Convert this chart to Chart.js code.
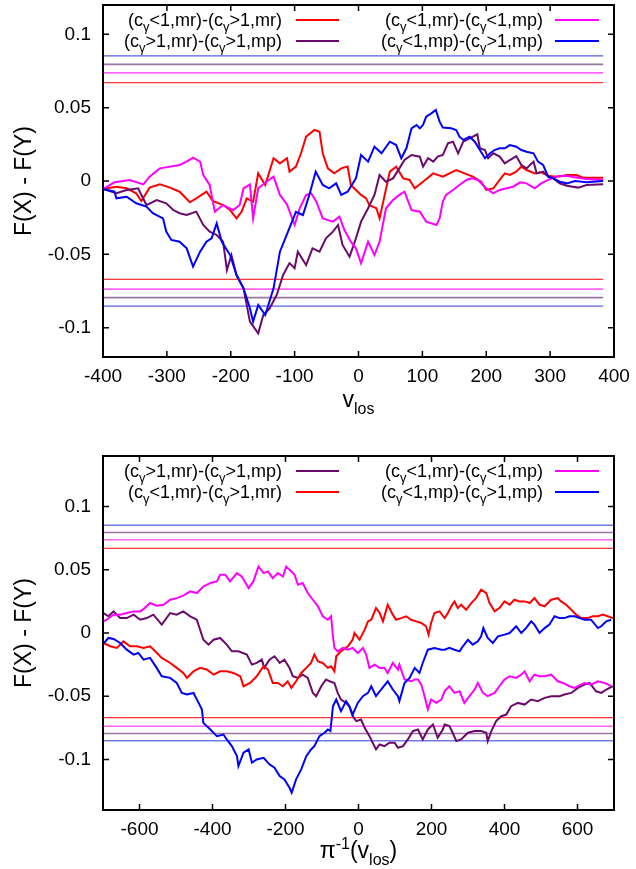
<!DOCTYPE html>
<html>
<head>
<meta charset="utf-8">
<title>F(X) - F(Y)</title>
<script src="https://cdn.jsdelivr.net/npm/chart.js@4.4.0/dist/chart.umd.min.js"></script>
<style>
  html, body { margin: 0; padding: 0; background: #fff; }
  #wrap { position: relative; width: 636px; height: 869px; }
  canvas { position: absolute; left: 0; }
  #top { top: 0; }
  #bottom { top: 436px; }
</style>
</head>
<body>
<div id="wrap">
  <canvas id="top" width="636" height="436"></canvas>
  <canvas id="bottom" width="636" height="433"></canvas>
</div>
<script>
// ---- upper panel: difference of cumulative distributions vs v_los ----
const topXTicks = [-400, -300, -200, -100, 0, 100, 200, 300, 400];
const topYTicks = [-0.1, -0.05, 0, 0.05, 0.1];

const topRedV = [-400,-379,-363,-348,-340,-327,-311,-295,-280,-264,-254,-238,-228,-212,-201,-191,-183,-175,-165,-157,-146,-133,-123,-112,-108,-98,-90,-82,-69,-61,-56,-48,-38,-27,-17,-12,-4,4,12,17,28,33,41,49,59,70,80,88,101,117,132,153,166,179,192,200,211,221,229,237,247,255,263,276,286,297,305,315,326,341,352,383];
const topRedF = [-0.0055,-0.0039,-0.0050,-0.0084,-0.0136,-0.0045,-0.0023,-0.0045,-0.0073,-0.0145,-0.0118,-0.0073,-0.0136,-0.0164,-0.0198,-0.0255,-0.0209,-0.0118,-0.0141,0.0052,-0.0027,0.0155,0.0120,0.0155,0.0064,0.0098,0.0189,0.0302,0.0348,0.0336,0.0189,0.0086,0.0052,0.0086,0.0098,-0.0027,-0.0061,-0.0095,-0.0118,-0.0164,-0.0186,-0.0255,-0.0095,0.0064,0.0098,0.0018,0.0007,-0.0050,-0.0005,0.0052,0.0030,0.0075,0.0052,0.0030,-0.0005,-0.0061,-0.0050,0.0007,0.0052,0.0041,0.0064,0.0098,0.0075,0.0052,0.0059,0.0036,0.0030,0.0030,0.0041,0.0041,0.0023,0.0023];

const topMagV = [-400,-382,-358,-337,-327,-311,-295,-280,-269,-259,-248,-243,-233,-225,-212,-196,-186,-180,-170,-165,-157,-144,-133,-123,-112,-100,-92,-82,-74,-66,-56,-40,-30,-22,-12,-4,4,15,25,33,43,54,64,72,83,96,106,122,127,132,137,148,158,169,177,187,200,211,221,232,242,253,263,276,286,297,305,315,326,336,357,383];
const topMagF = [-0.0055,-0.0009,0.0007,-0.0023,0.0030,0.0086,0.0098,0.0109,0.0132,0.0159,0.0132,0.0041,-0.0027,-0.0209,-0.0164,-0.0198,-0.0164,-0.0050,-0.0023,-0.0255,-0.0050,-0.0005,0.0030,-0.0095,-0.0160,-0.0300,-0.0186,-0.0095,-0.0084,-0.0141,-0.0255,-0.0277,-0.0243,-0.0334,-0.0414,-0.0459,-0.0561,-0.0414,-0.0505,-0.0414,-0.0186,-0.0130,-0.0095,-0.0073,-0.0198,-0.0209,-0.0277,-0.0300,-0.0255,-0.0141,-0.0095,-0.0061,-0.0027,0.0007,0.0018,0.0007,-0.0050,-0.0084,-0.0061,-0.0050,-0.0039,-0.0009,-0.0016,-0.0050,-0.0016,0.0007,0.0023,0.0034,0.0036,0.0027,0.0014,0.0007];

const topPurV = [-400,-379,-363,-345,-332,-316,-301,-290,-280,-269,-254,-243,-233,-222,-212,-206,-199,-191,-180,-170,-157,-149,-139,-128,-118,-108,-100,-95,-82,-72,-61,-51,-40,-32,-25,-14,-4,4,15,25,33,43,54,64,72,83,96,101,109,117,124,132,140,148,156,164,174,186,190,198,203,211,221,229,237,247,255,263,274,279,289,297,305,315,326,344,357,383];
const topPurF = [-0.0055,-0.0084,-0.0061,-0.0050,-0.0164,-0.0130,-0.0152,-0.0198,-0.0220,-0.0232,-0.0209,-0.0300,-0.0345,-0.0368,-0.0414,-0.0607,-0.0505,-0.0641,-0.0732,-0.0959,-0.1039,-0.0914,-0.0868,-0.0777,-0.0641,-0.0560,-0.0595,-0.0482,-0.0573,-0.0459,-0.0482,-0.0391,-0.0345,-0.0300,-0.0436,-0.0516,-0.0391,-0.0277,-0.0186,-0.0095,0.0041,-0.0005,0.0018,0.0086,0.0143,0.0177,0.0166,0.0098,0.0155,0.0132,0.0166,0.0177,0.0257,0.0268,0.0189,0.0268,0.0291,0.0318,0.0223,0.0211,0.0155,0.0189,0.0166,0.0120,0.0143,0.0170,0.0109,0.0086,0.0132,0.0052,0.0064,0.0030,0.0018,-0.0016,-0.0032,-0.0045,-0.0027,-0.0023];

const topBlueV = [-400,-382,-379,-363,-348,-332,-322,-306,-301,-293,-280,-269,-259,-248,-238,-230,-222,-214,-201,-191,-180,-170,-165,-157,-146,-133,-123,-108,-98,-87,-77,-67,-56,-46,-35,-27,-17,-4,4,15,25,36,49,59,67,75,83,91,96,101,106,114,121,127,132,145,153,158,164,174,182,190,198,206,213,221,229,237,247,255,263,274,281,289,297,305,315,326,339,357,383];
const topBlueF = [-0.0055,-0.0073,-0.0118,-0.0107,-0.0152,-0.0175,-0.0220,-0.0255,-0.0345,-0.0402,-0.0414,-0.0459,-0.0584,-0.0482,-0.0414,-0.0391,-0.0289,-0.0414,-0.0505,-0.0641,-0.0732,-0.0868,-0.0959,-0.0845,-0.0914,-0.0732,-0.0482,-0.0320,-0.0210,-0.0232,-0.0095,0.0064,-0.0027,-0.0050,-0.0016,-0.0095,-0.0073,0.0018,0.0177,0.0132,0.0234,0.0189,0.0268,0.0245,0.0155,0.0223,0.0359,0.0382,0.0359,0.0382,0.0439,0.0461,0.0484,0.0405,0.0364,0.0359,0.0348,0.0302,0.0280,0.0302,0.0268,0.0211,0.0155,0.0189,0.0211,0.0223,0.0223,0.0245,0.0234,0.0211,0.0200,0.0189,0.0132,0.0109,0.0030,0.0018,-0.0005,-0.0016,0.0000,-0.0009,0.0000];

// ---- lower panel: same differences vs pi^-1(v_los) ----
const botXTicks = [-600, -400, -200, 0, 200, 400, 600];
const botYTicks = [-0.1, -0.05, 0, 0.05, 0.1];

const botRedV = [-699,-680,-662,-644,-626,-607,-589,-571,-557,-539,-516,-498,-480,-470,-452,-434,-416,-397,-379,-361,-343,-324,-315,-297,-279,-260,-248,-235,-221,-207,-194,-184,-171,-157,-143,-130,-121,-111,-98,-84,-75,-66,-61,-48,-29,-16,-11,3,17,26,35,48,58,67,80,94,103,117,131,144,158,172,185,192,199,208,222,236,245,254,263,272,281,295,309,322,336,350,359,373,386,400,414,427,441,455,469,482,496,510,528,546,555,569,583,596,610,628,642,656,669,683,697];
const botRedF = [-0.0079,-0.0105,-0.0118,-0.0066,-0.0105,-0.0105,-0.0118,-0.0105,-0.0145,-0.0197,-0.0237,-0.0276,-0.0316,-0.0355,-0.0303,-0.0276,-0.0289,-0.0329,-0.0303,-0.0303,-0.0316,-0.0342,-0.0421,-0.0395,-0.0342,-0.0263,-0.0289,-0.0395,-0.0395,-0.0421,-0.0382,-0.0434,-0.0382,-0.0316,-0.0276,-0.0237,-0.0171,-0.0224,-0.0237,-0.0276,-0.0263,-0.0303,-0.0184,-0.0145,-0.0105,-0.0053,0.0000,-0.0053,0.0026,0.0092,0.0105,0.0197,0.0158,0.0092,0.0224,0.0145,0.0105,0.0118,0.0132,0.0105,0.0092,0.0079,0.0053,-0.0013,0.0079,0.0158,0.0171,0.0118,0.0158,0.0211,0.0250,0.0197,0.0224,0.0184,0.0237,0.0276,0.0342,0.0316,0.0237,0.0171,0.0197,0.0250,0.0224,0.0263,0.0250,0.0250,0.0237,0.0276,0.0224,0.0211,0.0263,0.0276,0.0250,0.0224,0.0184,0.0145,0.0118,0.0118,0.0132,0.0132,0.0145,0.0132,0.0118];

const botMagV = [-699,-690,-671,-653,-635,-616,-598,-589,-571,-553,-534,-516,-498,-480,-461,-443,-425,-406,-388,-379,-365,-352,-333,-320,-301,-288,-274,-260,-248,-235,-221,-207,-198,-184,-175,-166,-153,-139,-125,-111,-98,-84,-75,-70,-66,-57,-43,-29,-16,-2,12,21,30,44,58,71,80,94,108,112,126,144,154,163,172,181,190,199,213,227,236,249,263,277,290,304,318,327,341,354,373,386,400,414,432,446,455,469,482,496,510,528,546,560,578,592,601,619,637,656,674,692];
const botMagF = [0.0092,0.0105,0.0145,0.0145,0.0158,0.0171,0.0171,0.0189,0.0237,0.0216,0.0224,0.0263,0.0276,0.0295,0.0329,0.0316,0.0368,0.0395,0.0408,0.0461,0.0461,0.0408,0.0474,0.0447,0.0355,0.0408,0.0526,0.0474,0.0487,0.0434,0.0474,0.0447,0.0526,0.0487,0.0461,0.0382,0.0395,0.0316,0.0263,0.0211,0.0132,0.0105,0.0132,-0.0026,-0.0118,-0.0145,-0.0118,-0.0132,-0.0118,-0.0158,-0.0118,-0.0171,-0.0276,-0.0250,-0.0276,-0.0276,-0.0316,-0.0237,-0.0289,-0.0250,-0.0368,-0.0382,-0.0368,-0.0368,-0.0408,-0.0500,-0.0605,-0.0526,-0.0553,-0.0526,-0.0460,-0.0421,-0.0474,-0.0461,-0.0553,-0.0500,-0.0447,-0.0395,-0.0474,-0.0500,-0.0474,-0.0421,-0.0368,-0.0342,-0.0355,-0.0329,-0.0303,-0.0382,-0.0329,-0.0342,-0.0342,-0.0329,-0.0382,-0.0395,-0.0421,-0.0434,-0.0421,-0.0395,-0.0408,-0.0382,-0.0395,-0.0421];

const botPurV = [-699,-685,-671,-653,-635,-616,-598,-580,-562,-539,-516,-498,-480,-461,-443,-425,-411,-397,-379,-361,-347,-329,-306,-292,-279,-265,-258,-244,-230,-216,-203,-189,-180,-166,-153,-139,-125,-116,-102,-89,-79,-66,-57,-48,-34,-25,-16,-6,7,17,30,39,48,58,71,85,99,108,122,135,149,163,176,190,204,217,231,236,249,258,268,281,300,318,336,350,354,364,377,391,405,418,437,455,473,491,510,528,551,564,583,601,619,633,651,665,679,697];
const botPurF = [0.0158,0.0132,0.0171,0.0118,0.0118,0.0145,0.0105,0.0118,0.0145,0.0066,0.0158,0.0145,0.0171,0.0132,0.0105,-0.0053,-0.0092,-0.0053,-0.0039,-0.0092,-0.0145,-0.0145,-0.0171,-0.0250,-0.0237,-0.0211,-0.0276,-0.0211,-0.0184,-0.0237,-0.0211,-0.0276,-0.0342,-0.0355,-0.0329,-0.0355,-0.0474,-0.0500,-0.0421,-0.0368,-0.0382,-0.0395,-0.0474,-0.0526,-0.0553,-0.0579,-0.0658,-0.0697,-0.0684,-0.0750,-0.0816,-0.0868,-0.0921,-0.0882,-0.0895,-0.0868,-0.0868,-0.0908,-0.0895,-0.0842,-0.0776,-0.0763,-0.0842,-0.0763,-0.0724,-0.0829,-0.0763,-0.0724,-0.0737,-0.0789,-0.0855,-0.0842,-0.0789,-0.0776,-0.0776,-0.0789,-0.0855,-0.0776,-0.0697,-0.0658,-0.0645,-0.0579,-0.0553,-0.0566,-0.0526,-0.0539,-0.0513,-0.0500,-0.0500,-0.0487,-0.0474,-0.0434,-0.0408,-0.0395,-0.0461,-0.0474,-0.0447,-0.0421];

const botBlueV = [-697,-685,-671,-653,-635,-616,-603,-589,-571,-553,-539,-516,-498,-484,-470,-452,-438,-429,-425,-406,-388,-370,-361,-347,-333,-329,-315,-301,-292,-279,-260,-244,-230,-216,-203,-189,-183,-171,-157,-143,-130,-121,-107,-93,-84,-77,-70,-61,-48,-34,-25,-16,-2,12,26,35,48,62,80,94,108,112,126,140,154,167,176,190,208,227,236,249,263,277,286,300,313,327,336,342,354,368,382,400,414,432,446,459,473,482,496,510,523,537,551,564,578,592,606,619,637,656,665,679,692];
const botBlueF = [-0.0079,-0.0039,-0.0047,-0.0079,-0.0132,-0.0171,-0.0158,-0.0211,-0.0197,-0.0276,-0.0342,-0.0355,-0.0395,-0.0474,-0.0487,-0.0474,-0.0553,-0.0605,-0.0711,-0.0763,-0.0816,-0.0803,-0.0842,-0.0895,-0.0974,-0.1053,-0.0947,-0.0921,-0.1026,-0.1000,-0.0987,-0.1039,-0.1066,-0.1132,-0.1158,-0.1224,-0.1263,-0.1158,-0.1079,-0.0974,-0.0921,-0.0895,-0.0816,-0.0789,-0.0763,-0.0776,-0.0579,-0.0526,-0.0618,-0.0539,-0.0579,-0.0645,-0.0553,-0.0500,-0.0474,-0.0421,-0.0500,-0.0447,-0.0382,-0.0447,-0.0500,-0.0539,-0.0395,-0.0355,-0.0276,-0.0316,-0.0237,-0.0132,-0.0118,-0.0132,-0.0132,-0.0118,-0.0132,-0.0145,-0.0105,-0.0053,-0.0092,-0.0066,-0.0026,0.0039,-0.0039,-0.0079,-0.0026,-0.0013,0.0000,0.0053,0.0000,0.0039,0.0092,0.0066,0.0000,0.0039,0.0066,0.0132,0.0118,0.0118,0.0132,0.0132,0.0118,0.0105,0.0105,0.0039,0.0053,0.0092,0.0105];

// significance levels, drawn as +/- horizontal lines in both panels
const critLevels = [0.067, 0.0737, 0.0795, 0.0853];
const critColors = ['#ff0000', '#ff66ff', '#9c76a2', '#2a3ad8'];

const RED = '#ff0000', MAG = '#ff00ff', PUR = '#6a0a6a', BLUE = '#0000ff';
const FONT = '"Liberation Sans", Arial, Helvetica, sans-serif';

const labRedMr = '(c_γ<1,mr)-(c_γ>1,mr)';
const labMagMp = '(c_γ<1,mr)-(c_γ<1,mp)';
const labPurMp = '(c_γ>1,mr)-(c_γ>1,mp)';
const labBlueMp = '(c_γ<1,mp)-(c_γ>1,mp)';

function xy(vs, fs) {
    return vs.map((v, i) => ({ x: v, y: fs[i] }));
}

// tiny markup: _x or _{..} subscript, ^{..} superscript
function parseRich(s) {
    const out = [];
    let buf = '', i = 0;
    while (i < s.length) {
        const ch = s[i];
        if (ch === '_' || ch === '^') {
            if (buf) { out.push({ t: buf, k: 0 }); buf = ''; }
            let t;
            if (s[i + 1] === '{') {
                const j = s.indexOf('}', i);
                t = s.slice(i + 2, j);
                i = j + 1;
            } else {
                t = s[i + 1];
                i += 2;
            }
            out.push({ t: t, k: ch === '_' ? 1 : -1 });
        } else {
            buf += ch;
            i++;
        }
    }
    if (buf) out.push({ t: buf, k: 0 });
    return out;
}

function drawRich(ctx, s, x, y, size, align) {
    const segs = parseRich(s);
    const small = Math.round(size * 0.7);
    const fontOf = k => `${k ? small : size}px ${FONT}`;
    let w = 0;
    segs.forEach(g => { ctx.font = fontOf(g.k); g.w = ctx.measureText(g.t).width; w += g.w; });
    let cx = align === 'right' ? x - w : align === 'center' ? x - w / 2 : x;
    segs.forEach(g => {
        ctx.font = fontOf(g.k);
        const dy = g.k === 1 ? size * 0.3 : g.k === -1 ? -size * 0.4 : 0;
        ctx.fillText(g.t, cx, y + dy);
        cx += g.w;
    });
}

// gnuplot-like frame: full border, inward ticks, titles and the key
const framePlugin = {
    id: 'frame',
    afterDraw(chart, args, opts) {
        const { ctx, chartArea: a, scales: { x, y } } = chart;
        ctx.save();
        ctx.strokeStyle = '#000';
        ctx.lineWidth = 2;
        ctx.strokeRect(a.left, a.top, a.right - a.left, a.bottom - a.top);

        ctx.lineWidth = 1.5;
        ctx.beginPath();
        x.ticks.forEach(t => {
            const px = x.getPixelForValue(t.value);
            ctx.moveTo(px, a.bottom); ctx.lineTo(px, a.bottom - 6);
            ctx.moveTo(px, a.top); ctx.lineTo(px, a.top + 6);
        });
        y.ticks.forEach(t => {
            const py = y.getPixelForValue(t.value);
            ctx.moveTo(a.left, py); ctx.lineTo(a.left + 6, py);
            ctx.moveTo(a.right, py); ctx.lineTo(a.right - 6, py);
        });
        ctx.stroke();

        ctx.fillStyle = '#000';
        ctx.textBaseline = 'alphabetic';
        const cxMid = (a.left + a.right) / 2;
        drawRich(ctx, opts.xTitle, cxMid, a.bottom + opts.xTitleGap, 23, 'center');

        ctx.save();
        ctx.translate(22, (a.top + a.bottom) / 2);
        ctx.rotate(-Math.PI / 2);
        drawRich(ctx, 'F(X) - F(Y)', 0, 9, 23, 'center');
        ctx.restore();

        // key: two columns, text right-aligned with the sample to its right
        const cols = [
            { textRight: a.left + 179, s0: a.left + 193, s1: a.left + 236 },
            { textRight: a.left + 440, s0: a.left + 452, s1: a.left + 496 }
        ];
        const rows = [a.top + 21, a.top + 42];
        opts.key.forEach((item, i) => {
            const c = cols[i % 2], base = rows[Math.floor(i / 2)];
            ctx.fillStyle = '#000';
            drawRich(ctx, item[0], c.textRight, base, 18, 'right');
            ctx.strokeStyle = item[1];
            ctx.lineWidth = 2;
            ctx.beginPath();
            ctx.moveTo(c.s0, base - 6);
            ctx.lineTo(c.s1, base - 6);
            ctx.stroke();
        });
        ctx.restore();
    }
};

function curve(vs, fs, color) {
    return { data: xy(vs, fs), borderColor: color, borderWidth: 2, pointRadius: 0, tension: 0, fill: false };
}

function critSets(x0, x1) {
    const sets = [];
    critLevels.forEach((c, i) => {
        [c, -c].forEach(level => {
            sets.push({
                data: [{ x: x0, y: level }, { x: x1, y: level }],
                borderColor: critColors[i],
                borderWidth: i === 0 || i === 3 ? 1 : 1.6,
                pointRadius: 0, fill: false
            });
        });
    });
    return sets;
}

function makePanel(id, p) {
    new Chart(document.getElementById(id), {
        type: 'line',
        data: { datasets: p.curves.concat(critSets(p.xMin, p.critEnd)) },
        options: {
            responsive: false,
            animation: false,
            layout: { padding: { left: 0, right: 22, top: p.padTop, bottom: 0 } },
            scales: {
                x: {
                    type: 'linear', min: p.xMin, max: p.xMax,
                    afterBuildTicks: s => { s.ticks = p.xTicks.map(v => ({ value: v })); },
                    afterFit: s => { s.height = p.xAxisHeight; s.paddingLeft = 0; s.paddingRight = 0; },
                    grid: { display: false, drawTicks: false },
                    border: { display: false },
                    ticks: { color: '#000', padding: 8, autoSkip: false, maxRotation: 0,
                             font: { family: FONT, size: 19 }, callback: v => String(v) }
                },
                y: {
                    type: 'linear', min: p.yMin, max: p.yMax,
                    afterBuildTicks: s => { s.ticks = p.yTicks.map(v => ({ value: v })); },
                    afterFit: s => { s.width = 103; s.paddingTop = 0; s.paddingBottom = 0; },
                    grid: { display: false, drawTicks: false },
                    border: { display: false },
                    ticks: { color: '#000', padding: 12,
                             font: { family: FONT, size: 19 }, callback: v => String(v) }
                }
            },
            plugins: {
                legend: { display: false },
                tooltip: { enabled: false },
                frame: { xTitle: p.xTitle, xTitleGap: p.xTitleGap, key: p.key }
            }
        },
        plugins: [framePlugin]
    });
}

makePanel('top', {
    xMin: -400, xMax: 400, xTicks: topXTicks, critEnd: 383,
    yMin: -0.12, yMax: 0.12, yTicks: topYTicks,
    padTop: 5, xAxisHeight: 79, xTitle: 'v_{los}', xTitleGap: 50,
    curves: [
        curve(topBlueV, topBlueF, BLUE),
        curve(topMagV, topMagF, MAG),
        curve(topPurV, topPurF, PUR),
        curve(topRedV, topRedF, RED)
    ],
    key: [[labRedMr, RED], [labMagMp, MAG], [labPurMp, PUR], [labBlueMp, BLUE]]
});

makePanel('bottom', {
    xMin: -700, xMax: 700, xTicks: botXTicks, critEnd: 700,
    yMin: -0.14, yMax: 0.14, yTicks: botYTicks,
    padTop: 20, xAxisHeight: 59, xTitle: 'π^{-1}(v_{los})', xTitleGap: 48,
    curves: [
        curve(botBlueV, botBlueF, BLUE),
        curve(botMagV, botMagF, MAG),
        curve(botRedV, botRedF, RED),
        curve(botPurV, botPurF, PUR)
    ],
    key: [[labPurMp, PUR], [labMagMp, MAG], [labRedMr, RED], [labBlueMp, BLUE]]
});
</script>
</body>
</html>
